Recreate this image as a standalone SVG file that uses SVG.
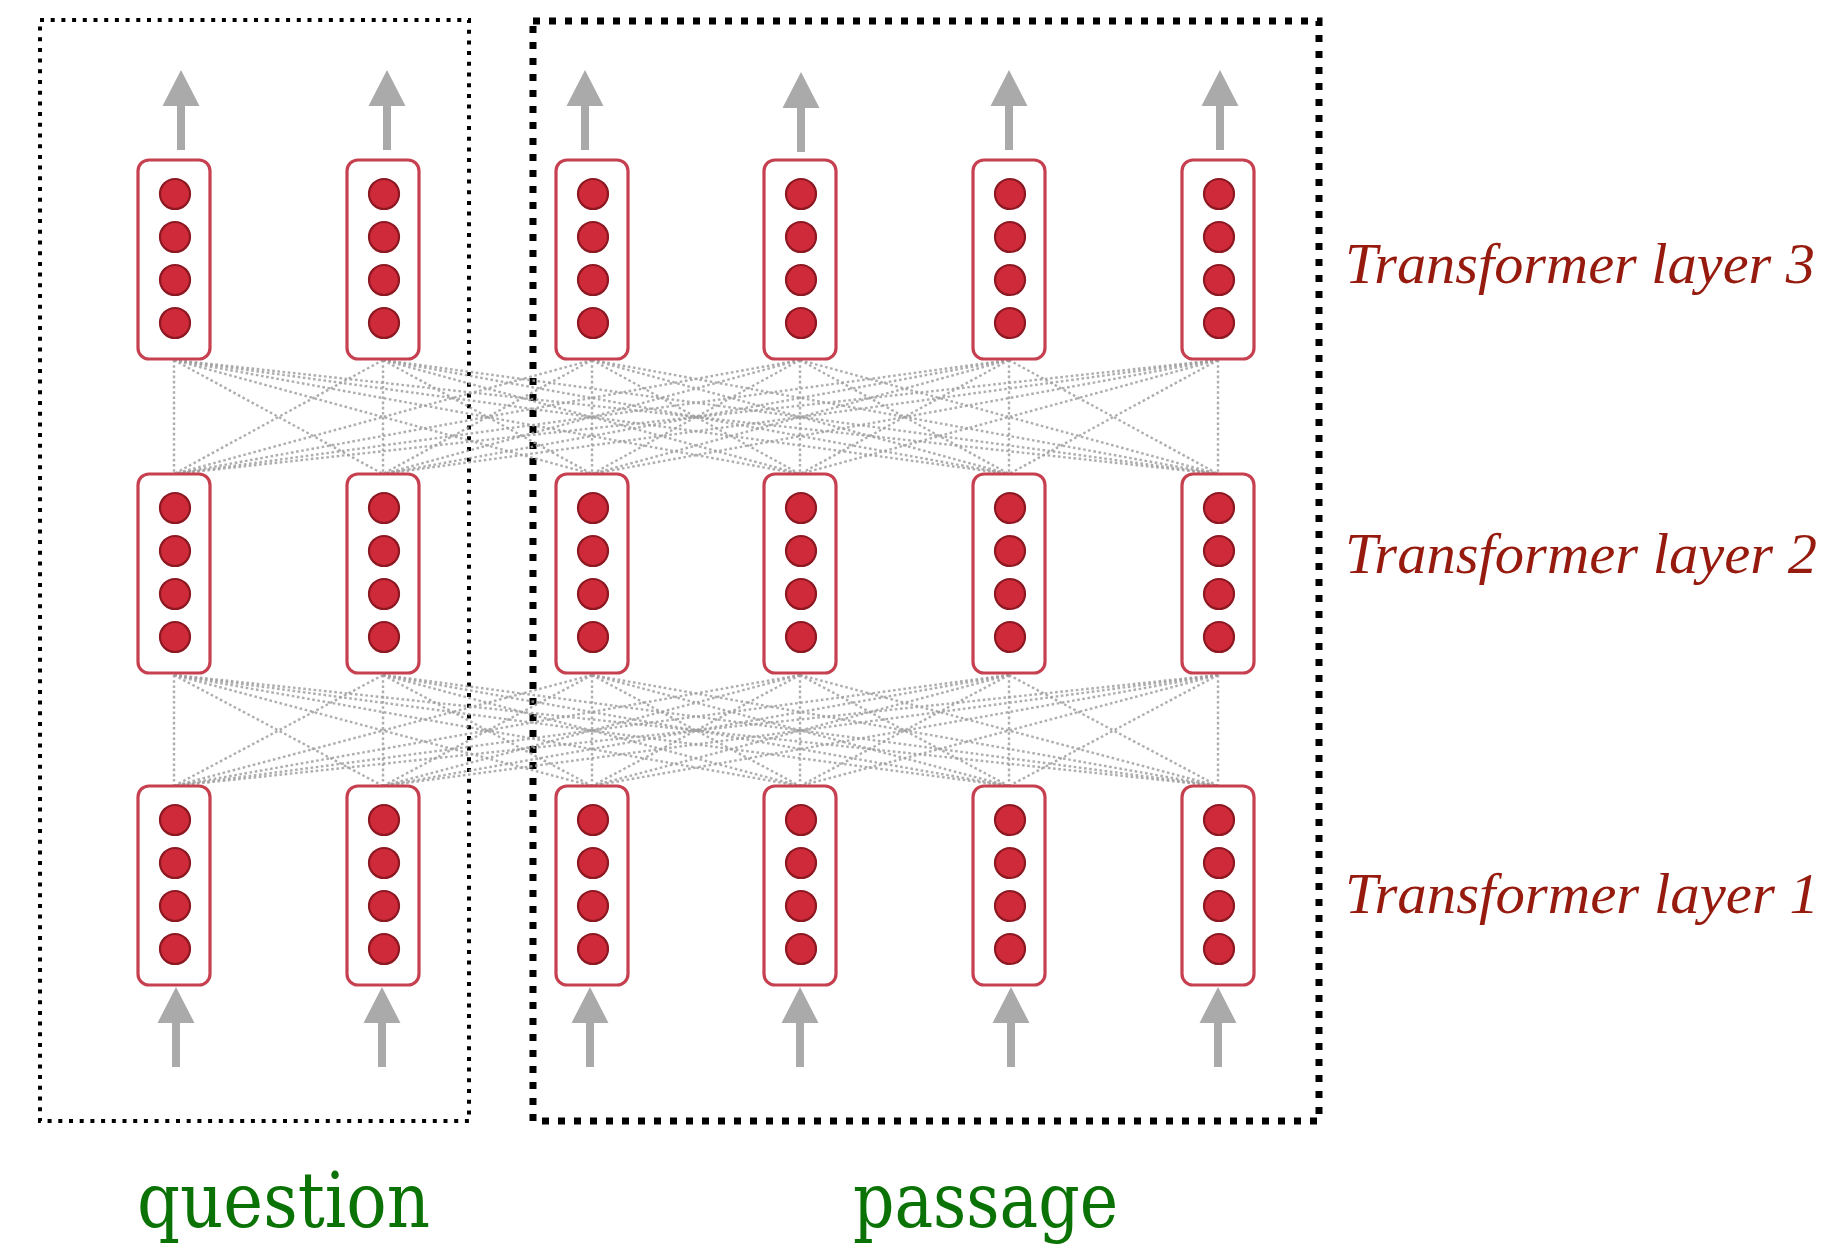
<svg xmlns="http://www.w3.org/2000/svg" width="1839" height="1247" viewBox="0 0 1839 1247">
<style>
.box{fill:none;stroke:#000}
.q{stroke-width:4;stroke-dasharray:4 6.7}
.p{stroke-width:7;stroke-dasharray:7 9}
.cell{fill:#fff;stroke:#c6404f;stroke-width:3.2}
.dot{fill:#cf2a3a;stroke:#8c1822;stroke-width:2.2}
.arr{fill:#aaaaaa}
.con line{stroke:#a0a0a0;stroke-width:2.4;stroke-dasharray:2.6 2.6;stroke-opacity:0.85}
.lab{font-family:"Liberation Serif","DejaVu Serif",serif;font-style:italic;font-size:58px;fill:#961b0e}
.grp{font-family:"DejaVu Serif","Liberation Serif",serif;font-stretch:condensed;font-size:76px;fill:#0b7306}
</style>
<defs>
<g id="cellg">
<rect class="cell" x="-36" y="0" width="72" height="199" rx="11"/>
<circle class="dot" cx="1" cy="34" r="15"/>
<circle class="dot" cx="1" cy="77" r="15"/>
<circle class="dot" cx="1" cy="120" r="15"/>
<circle class="dot" cx="1" cy="163" r="15"/>
</g>
<path id="arrow" class="arr" d="M0,0 L18.5,36 L4,36 L4,80 L-4,80 L-4,36 L-18.5,36 Z"/>
</defs>
<rect width="1839" height="1247" fill="#fff"/>

<g id="question-box"><rect class="box q" x="40" y="20" width="429" height="1101"/></g>
<g id="passage-box"><rect class="box p" x="533" y="21" width="786" height="1100"/></g>

<g id="connectors" class="con">
<line x1="174" y1="360" x2="174" y2="474"/><line x1="174" y1="360" x2="383" y2="474"/><line x1="174" y1="360" x2="592" y2="474"/><line x1="174" y1="360" x2="800" y2="474"/><line x1="174" y1="360" x2="1009" y2="474"/><line x1="174" y1="360" x2="1218" y2="474"/>
<line x1="383" y1="360" x2="174" y2="474"/><line x1="383" y1="360" x2="383" y2="474"/><line x1="383" y1="360" x2="592" y2="474"/><line x1="383" y1="360" x2="800" y2="474"/><line x1="383" y1="360" x2="1009" y2="474"/><line x1="383" y1="360" x2="1218" y2="474"/>
<line x1="592" y1="360" x2="174" y2="474"/><line x1="592" y1="360" x2="383" y2="474"/><line x1="592" y1="360" x2="592" y2="474"/><line x1="592" y1="360" x2="800" y2="474"/><line x1="592" y1="360" x2="1009" y2="474"/><line x1="592" y1="360" x2="1218" y2="474"/>
<line x1="800" y1="360" x2="174" y2="474"/><line x1="800" y1="360" x2="383" y2="474"/><line x1="800" y1="360" x2="592" y2="474"/><line x1="800" y1="360" x2="800" y2="474"/><line x1="800" y1="360" x2="1009" y2="474"/><line x1="800" y1="360" x2="1218" y2="474"/>
<line x1="1009" y1="360" x2="174" y2="474"/><line x1="1009" y1="360" x2="383" y2="474"/><line x1="1009" y1="360" x2="592" y2="474"/><line x1="1009" y1="360" x2="800" y2="474"/><line x1="1009" y1="360" x2="1009" y2="474"/><line x1="1009" y1="360" x2="1218" y2="474"/>
<line x1="1218" y1="360" x2="174" y2="474"/><line x1="1218" y1="360" x2="383" y2="474"/><line x1="1218" y1="360" x2="592" y2="474"/><line x1="1218" y1="360" x2="800" y2="474"/><line x1="1218" y1="360" x2="1009" y2="474"/><line x1="1218" y1="360" x2="1218" y2="474"/>
<line x1="174" y1="675" x2="174" y2="786"/><line x1="174" y1="675" x2="383" y2="786"/><line x1="174" y1="675" x2="592" y2="786"/><line x1="174" y1="675" x2="800" y2="786"/><line x1="174" y1="675" x2="1009" y2="786"/><line x1="174" y1="675" x2="1218" y2="786"/>
<line x1="383" y1="675" x2="174" y2="786"/><line x1="383" y1="675" x2="383" y2="786"/><line x1="383" y1="675" x2="592" y2="786"/><line x1="383" y1="675" x2="800" y2="786"/><line x1="383" y1="675" x2="1009" y2="786"/><line x1="383" y1="675" x2="1218" y2="786"/>
<line x1="592" y1="675" x2="174" y2="786"/><line x1="592" y1="675" x2="383" y2="786"/><line x1="592" y1="675" x2="592" y2="786"/><line x1="592" y1="675" x2="800" y2="786"/><line x1="592" y1="675" x2="1009" y2="786"/><line x1="592" y1="675" x2="1218" y2="786"/>
<line x1="800" y1="675" x2="174" y2="786"/><line x1="800" y1="675" x2="383" y2="786"/><line x1="800" y1="675" x2="592" y2="786"/><line x1="800" y1="675" x2="800" y2="786"/><line x1="800" y1="675" x2="1009" y2="786"/><line x1="800" y1="675" x2="1218" y2="786"/>
<line x1="1009" y1="675" x2="174" y2="786"/><line x1="1009" y1="675" x2="383" y2="786"/><line x1="1009" y1="675" x2="592" y2="786"/><line x1="1009" y1="675" x2="800" y2="786"/><line x1="1009" y1="675" x2="1009" y2="786"/><line x1="1009" y1="675" x2="1218" y2="786"/>
<line x1="1218" y1="675" x2="174" y2="786"/><line x1="1218" y1="675" x2="383" y2="786"/><line x1="1218" y1="675" x2="592" y2="786"/><line x1="1218" y1="675" x2="800" y2="786"/><line x1="1218" y1="675" x2="1009" y2="786"/><line x1="1218" y1="675" x2="1218" y2="786"/>
</g>

<g id="arrows-out">
<use href="#arrow" x="181" y="70"/><use href="#arrow" x="387" y="70"/><use href="#arrow" x="585" y="70"/><use href="#arrow" x="801" y="72"/><use href="#arrow" x="1009" y="70"/><use href="#arrow" x="1220" y="70"/>
</g>
<g id="arrows-in">
<use href="#arrow" x="176" y="987"/><use href="#arrow" x="382" y="987"/><use href="#arrow" x="590" y="987"/><use href="#arrow" x="800" y="987"/><use href="#arrow" x="1011" y="987"/><use href="#arrow" x="1218" y="987"/>
</g>

<g id="layer3">
<g id="n3-1"><use href="#cellg" x="174" y="160"/></g>
<g id="n3-2"><use href="#cellg" x="383" y="160"/></g>
<g id="n3-3"><use href="#cellg" x="592" y="160"/></g>
<g id="n3-4"><use href="#cellg" x="800" y="160"/></g>
<g id="n3-5"><use href="#cellg" x="1009" y="160"/></g>
<g id="n3-6"><use href="#cellg" x="1218" y="160"/></g>
</g>
<g id="layer2">
<g id="n2-1"><use href="#cellg" x="174" y="474"/></g>
<g id="n2-2"><use href="#cellg" x="383" y="474"/></g>
<g id="n2-3"><use href="#cellg" x="592" y="474"/></g>
<g id="n2-4"><use href="#cellg" x="800" y="474"/></g>
<g id="n2-5"><use href="#cellg" x="1009" y="474"/></g>
<g id="n2-6"><use href="#cellg" x="1218" y="474"/></g>
</g>
<g id="layer1">
<g id="n1-1"><use href="#cellg" x="174" y="786"/></g>
<g id="n1-2"><use href="#cellg" x="383" y="786"/></g>
<g id="n1-3"><use href="#cellg" x="592" y="786"/></g>
<g id="n1-4"><use href="#cellg" x="800" y="786"/></g>
<g id="n1-5"><use href="#cellg" x="1009" y="786"/></g>
<g id="n1-6"><use href="#cellg" x="1218" y="786"/></g>
</g>

<g id="labels">
<text class="lab" x="1345" y="283" textLength="470" lengthAdjust="spacingAndGlyphs">Transformer layer 3</text>
<text class="lab" x="1345" y="573" textLength="472" lengthAdjust="spacingAndGlyphs">Transformer layer 2</text>
<text class="lab" x="1345" y="913" textLength="474" lengthAdjust="spacingAndGlyphs">Transformer layer 1</text>
<text class="grp" x="137" y="1227" textLength="293" lengthAdjust="spacingAndGlyphs">question</text>
<text class="grp" x="853" y="1227" textLength="265" lengthAdjust="spacingAndGlyphs">passage</text>
</g>
</svg>
